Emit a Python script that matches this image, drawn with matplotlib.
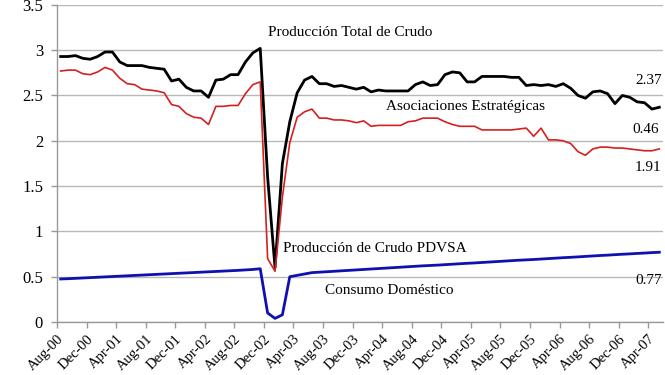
import matplotlib
matplotlib.use("Agg")
import matplotlib.pyplot as plt
import matplotlib.transforms as mtransforms

# Monthly data, Aug-00 .. May-07 (millions of barrels per day)
total_crudo = [2.93, 2.93, 2.94, 2.91, 2.90, 2.93, 2.98, 2.98, 2.87, 2.83,
               2.83, 2.83, 2.81, 2.80, 2.79, 2.66, 2.68, 2.59, 2.55, 2.55,
               2.48, 2.67, 2.68, 2.73, 2.73, 2.87, 2.97, 3.02, 1.60, 0.60,
               1.75, 2.21, 2.53, 2.67, 2.71, 2.63, 2.63, 2.60, 2.61, 2.59,
               2.57, 2.59, 2.54, 2.56, 2.55, 2.55, 2.55, 2.55, 2.62, 2.65,
               2.61, 2.62, 2.73, 2.76, 2.75, 2.65, 2.65, 2.71, 2.71, 2.71,
               2.71, 2.70, 2.70, 2.61, 2.62, 2.61, 2.62, 2.60, 2.63, 2.58,
               2.50, 2.47, 2.54, 2.55, 2.52, 2.41, 2.50, 2.48, 2.43, 2.42,
               2.35, 2.37]

crudo_pdvsa = [2.77, 2.78, 2.78, 2.74, 2.73, 2.76, 2.81, 2.78, 2.69, 2.63,
               2.62, 2.57, 2.56, 2.55, 2.53, 2.40, 2.38, 2.30, 2.26, 2.25,
               2.18, 2.38, 2.38, 2.39, 2.39, 2.52, 2.62, 2.65, 0.70, 0.56,
               1.38, 1.98, 2.26, 2.32, 2.35, 2.25, 2.25, 2.23, 2.23, 2.22,
               2.20, 2.22, 2.16, 2.17, 2.17, 2.17, 2.17, 2.21, 2.22, 2.25,
               2.25, 2.25, 2.21, 2.18, 2.16, 2.16, 2.16, 2.12, 2.12, 2.12,
               2.12, 2.12, 2.13, 2.14, 2.05, 2.14, 2.01, 2.01, 2.00, 1.97,
               1.88, 1.84, 1.91, 1.93, 1.93, 1.92, 1.92, 1.91, 1.90, 1.89,
               1.89, 1.91]

consumo_domestico = [0.475, 0.478, 0.482, 0.486, 0.490, 0.494, 0.498, 0.502, 0.506, 0.510,
                     0.514, 0.518, 0.522, 0.526, 0.530, 0.534, 0.538, 0.542, 0.546, 0.550,
                     0.554, 0.558, 0.562, 0.566, 0.570, 0.575, 0.580, 0.588, 0.100, 0.040,
                     0.080, 0.500, 0.515, 0.530, 0.545, 0.550, 0.555, 0.560, 0.565, 0.570,
                     0.575, 0.580, 0.585, 0.590, 0.595, 0.600, 0.605, 0.610, 0.615, 0.620,
                     0.624, 0.628, 0.633, 0.638, 0.643, 0.648, 0.652, 0.657, 0.662, 0.667,
                     0.672, 0.677, 0.682, 0.686, 0.690, 0.695, 0.700, 0.705, 0.710, 0.714,
                     0.719, 0.724, 0.729, 0.734, 0.738, 0.743, 0.748, 0.752, 0.757, 0.761,
                     0.766, 0.770]

tick_labels = ["Aug-00", "Dec-00", "Apr-01", "Aug-01", "Dec-01", "Apr-02", "Aug-02",
               "Dec-02", "Apr-03", "Aug-03", "Dec-03", "Apr-04", "Aug-04", "Dec-04",
               "Apr-05", "Aug-05", "Dec-05", "Apr-06", "Aug-06", "Dec-06", "Apr-07"]

series_labels = ["Producción Total de Crudo", "Asociaciones Estratégicas",
                 "Producción de Crudo PDVSA", "Consumo Doméstico"]
end_values = ["2.37", "0.46", "1.91", "0.77"]

plt.rcParams['font.family'] = ['Liberation Serif', 'DejaVu Serif']

fig = plt.figure(figsize=(6.65, 3.75), dpi=100)
ax = fig.add_axes([0.0857, 0.1413, 0.9113, 0.8457])

x = list(range(len(total_crudo)))
ax.plot(x, total_crudo, color="#000000", lw=2.0, zorder=3)
ax.plot(x, crudo_pdvsa, color="#d42020", lw=1.2, zorder=4)
ax.plot(x, consumo_domestico, color="#1010b0", lw=2.0, zorder=3)

ax.set_xlim(-0.5, len(total_crudo) - 0.5)
ax.set_ylim(0, 3.5)
ax.set_yticks([0, 0.5, 1, 1.5, 2, 2.5, 3, 3.5])
ax.set_yticklabels(["0", "0.5", "1", "1.5", "2", "2.5", "3", "3.5"], fontsize=12)
ax.yaxis.grid(True, color="#b8b8b8", lw=1.0)
ax.set_axisbelow(True)

tick_pos = [-0.5 + 4 * k for k in range(len(tick_labels))]
ax.set_xticks(tick_pos)
ax.set_xticklabels(tick_labels, rotation=45, ha="right", va="top",
                   rotation_mode="anchor", fontsize=10.5)
offset = mtransforms.ScaledTranslation(-7 / 100, -3 / 100, fig.dpi_scale_trans)
for lab in ax.get_xticklabels():
    lab.set_transform(lab.get_transform() + offset)

ax.tick_params(axis="both", direction="out", length=4, color="#999999", width=1)
ax.tick_params(axis="y", pad=6)
for s in ["top", "right"]:
    ax.spines[s].set_visible(False)
for s in ["left", "bottom"]:
    ax.spines[s].set_color("#999999")
    ax.spines[s].set_linewidth(1.0)

fs = 11
ax.text(39.2, 3.20, series_labels[0], ha="center", va="center", fontsize=fs)
ax.text(54.8, 2.38, series_labels[1], ha="center", va="center", fontsize=fs)
ax.text(42.5, 0.81, series_labels[2], ha="center", va="center", fontsize=fs)
ax.text(44.5, 0.35, series_labels[3], ha="center", va="center", fontsize=fs)

ax.text(81.3, 2.66, end_values[0], ha="right", va="center", fontsize=fs)
ax.text(81.0, 2.13, end_values[1], ha="right", va="center", fontsize=fs)
ax.text(81.3, 1.71, end_values[2], ha="right", va="center", fontsize=fs)
ax.text(81.4, 0.46, end_values[3], ha="right", va="center", fontsize=fs)

fig.savefig("out.png", dpi=100)
